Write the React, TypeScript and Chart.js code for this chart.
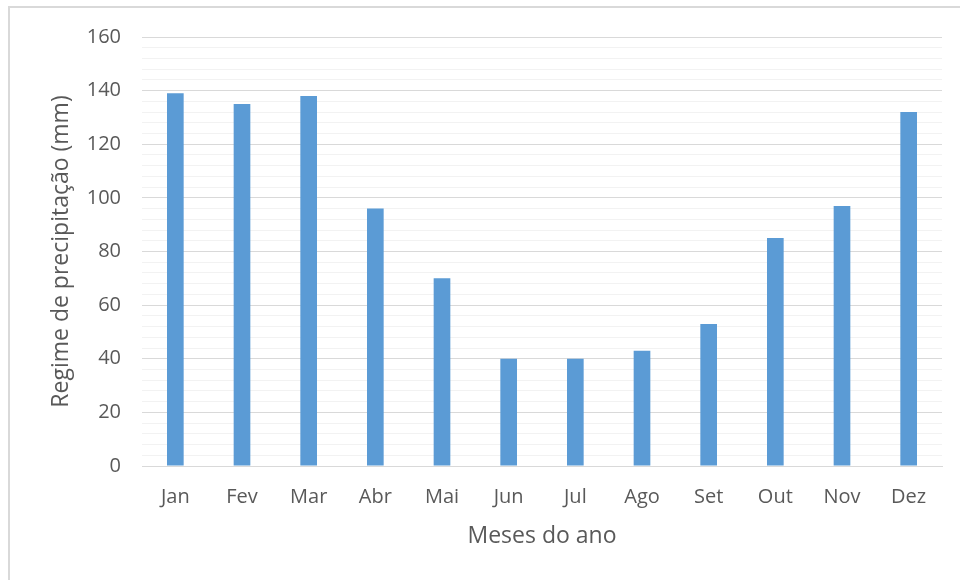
import React, { useEffect, useRef } from "react";
import { Chart, registerables } from "chart.js";

Chart.register(...registerables);

const months = ["Jan", "Fev", "Mar", "Abr", "Mai", "Jun", "Jul", "Ago", "Set", "Out", "Nov", "Dez"];
const precipitation = [139, 135, 138, 96, 70, 40, 40, 43, 53, 85, 97, 132];
const yTitle = "Regime de precipitação (mm)";
const xTitle = "Meses do ano";

const FONT = "'Open Sans', sans-serif";
const TEXT = "#595959";

export default function App() {
  const ref = useRef<HTMLCanvasElement>(null);

  useEffect(() => {
    if (!ref.current) return;
    const chart = new Chart(ref.current, {
      type: "bar",
      data: {
        labels: months,
        datasets: [
          {
            data: precipitation,
            backgroundColor: "#5B9BD5",
            borderWidth: 0,
            categoryPercentage: 1,
            barPercentage: 0.25,
          },
        ],
      },
      options: {
        animation: false,
        responsive: false,
        maintainAspectRatio: false,
        layout: { padding: { left: 48, top: 37, right: 18, bottom: 30 } },
        plugins: { legend: { display: false }, tooltip: { enabled: false } },
        scales: {
          x: {
            grid: { display: false, drawTicks: false },
            border: { color: "#d9d9d9", width: 1 },
            ticks: { color: TEXT, font: { family: FONT, size: 20 }, padding: 19 },
            title: {
              display: true,
              text: xTitle,
              color: TEXT,
              font: { family: FONT, size: 23 },
              padding: { top: 4, bottom: 0 },
            },
            afterFit: (s: any) => {
              s.height = 580 - 466 - 30;
            },
          },
          y: {
            min: 0,
            max: 160,
            border: { display: false },
            grid: {
              drawTicks: false,
              color: (ctx: any) => (ctx.tick && ctx.tick.value % 20 === 0 ? "#d9d9d9" : "#f2f2f2"),
              lineWidth: 1,
            },
            ticks: {
              stepSize: 4,
              autoSkip: false,
              color: TEXT,
              font: { family: FONT, size: 20 },
              padding: 21,
              callback: (v: any) => (Number(v) % 20 === 0 ? String(v) : ""),
            },
            title: {
              display: true,
              text: yTitle,
              color: TEXT,
              font: { family: FONT, size: 23 },
              padding: { top: 0, bottom: 0 },
            },
            afterFit: (s: any) => {
              s.width = 142 - 48;
            },
          },
        },
      },
    });
    return () => chart.destroy();
  }, []);

  return (
    <div>
      <div
        style={{
          position: "fixed",
          left: 8,
          top: 6,
          width: 970,
          height: 600,
          border: "2px solid #d9d9d9",
          boxSizing: "border-box",
        }}
      />
      <canvas
        ref={ref}
        width={960}
        height={580}
        style={{ position: "fixed", left: 0, top: 0, width: 960, height: 580 }}
      />
    </div>
  );
}
